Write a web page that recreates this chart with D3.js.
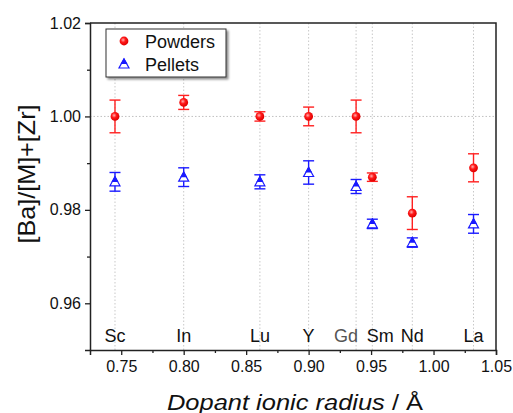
<!DOCTYPE html>
<html>
<head>
<meta charset="utf-8">
<script src="https://cdn.jsdelivr.net/npm/d3@7"></script>
<style>
  body { margin: 0; background: #fff; }
  text { font-family: "Liberation Sans", Arial, sans-serif; }
</style>
</head>
<body>
<div id="chart"></div>
<script>
const width = 513
const height = 413
const margin = { top: 23, right: 17, bottom: 63, left: 90 }

// dopant elements and their ionic radii (Å)
const elements = ["Sc", "In", "Lu", "Y", "Gd", "Sm", "Nd", "La"]
const radii = [0.745, 0.800, 0.861, 0.900, 0.938, 0.951, 0.983, 1.032]

// [Ba]/([M]+[Zr]) ratios
const powders = [1.000, 1.003, 1.000, 1.000, 1.000, 0.987, 0.9793, 0.989]
const powdersErr = [0.0035, 0.0015, 0.001, 0.002, 0.0035, 0.0009, 0.0035, 0.003]
const pellets = [0.986, 0.987, 0.986, 0.988, 0.985, 0.977, 0.973, 0.977]
const pelletsErr = [0.002, 0.002, 0.0015, 0.0025, 0.0015, 0.001, 0.001, 0.002]

const xTicks = [0.75, 0.80, 0.85, 0.90, 0.95, 1.00, 1.05]
const yTicks = [0.96, 0.98, 1.00, 1.02]

const svg = d3.select("#chart")
  .append("svg")
    .attr("width", width)
    .attr("height", height)

const x = d3.scaleLinear().domain([0.725, 1.05]).range([margin.left, width - margin.right])
const y = d3.scaleLinear().domain([0.95, 1.02]).range([height - margin.bottom, margin.top])

const defs = svg.append("defs")
const grad = defs.append("radialGradient").attr("id", "ball")
  .attr("cx", "40%").attr("cy", "38%").attr("r", "60%")
grad.append("stop").attr("offset", "0%").attr("stop-color", "#ffb0b0")
grad.append("stop").attr("offset", "45%").attr("stop-color", "#ff1a1a")
grad.append("stop").attr("offset", "100%").attr("stop-color", "#e00000")

const shadow = defs.append("filter").attr("id", "shadow")
shadow.append("feDropShadow").attr("dx", 2).attr("dy", 2).attr("stdDeviation", 1)
  .attr("flood-color", "#000").attr("flood-opacity", 0.45)

// grid: vertical dotted lines at each dopant, horizontal at 1.00
svg.append("g")
  .selectAll("line")
  .data(radii)
  .enter()
  .append("line")
    .attr("x1", d => x(d)).attr("x2", d => x(d))
    .attr("y1", y(0.95)).attr("y2", y(1.02))
    .attr("stroke", "#c8c8c8")
    .attr("stroke-dasharray", "1.5,2")

svg.append("line")
  .attr("x1", x(0.725)).attr("x2", x(1.05))
  .attr("y1", y(1.00)).attr("y2", y(1.00))
  .attr("stroke", "#c0c0c0")
  .attr("stroke-dasharray", "1.5,2")

// axes
svg.append("g")
  .attr("transform", "translate(0," + y(0.95) + ")")
  .call(d3.axisBottom(x).tickValues(xTicks).tickFormat(d3.format(".2f")).tickSize(5).tickPadding(6))
svg.append("g")
  .attr("transform", "translate(0," + y(0.95) + ")")
  .call(d3.axisBottom(x).tickValues(d3.range(0.775, 1.05, 0.05)).tickFormat("").tickSize(3))
  .select(".domain").remove()

svg.append("g")
  .attr("transform", "translate(" + x(0.725) + ",0)")
  .call(d3.axisLeft(y).tickValues(yTicks).tickFormat(d3.format(".2f")).tickSize(5).tickPadding(4))
svg.append("g")
  .attr("transform", "translate(" + x(0.725) + ",0)")
  .call(d3.axisLeft(y).tickValues([0.97, 0.99, 1.01]).tickFormat("").tickSize(3))
  .select(".domain").remove()

svg.selectAll(".tick text").attr("font-size", 16).attr("fill", "#111")
svg.selectAll(".tick line").attr("stroke", "#222").attr("stroke-width", 1.3)
svg.selectAll(".domain").attr("stroke", "#222").attr("stroke-width", 1.5)

// frame on top and right
svg.append("path")
  .attr("d", "M" + x(0.725) + "," + y(1.02) + "H" + x(1.05) + "V" + y(0.95))
  .attr("fill", "none").attr("stroke", "#222").attr("stroke-width", 1.5)

// element labels
const shift = { Gd: -10, Sm: 8 }
svg.append("g")
  .selectAll("text")
  .data(elements)
  .enter()
  .append("text")
    .attr("x", (d, i) => x(radii[i]) + (shift[d] || 0))
    .attr("y", y(0.95) - 8.5)
    .attr("text-anchor", "middle")
    .attr("font-size", 18)
    .attr("fill", d => d === "Gd" ? "#555" : "#111")
    .text(d => d)

// error bars
function errorBars(vals, errs, color) {
  const g = svg.append("g").attr("stroke", color).attr("stroke-width", 1.4)
  vals.forEach((v, i) => {
    const cx = x(radii[i])
    g.append("line").attr("x1", cx).attr("x2", cx).attr("y1", y(v - errs[i])).attr("y2", y(v + errs[i]))
    g.append("line").attr("x1", cx - 5.5).attr("x2", cx + 5.5).attr("y1", y(v - errs[i])).attr("y2", y(v - errs[i]))
    g.append("line").attr("x1", cx - 5.5).attr("x2", cx + 5.5).attr("y1", y(v + errs[i])).attr("y2", y(v + errs[i]))
  })
}
errorBars(powders, powdersErr, "#ff2020")
errorBars(pellets, pelletsErr, "#1a1aff")

// markers
function ball(g, cx, cy) {
  g.append("circle").attr("cx", cx).attr("cy", cy).attr("r", 4.4).attr("fill", "url(#ball)")
}
function halfTri(g, cx, cy) {
  const s = 5
  g.append("path")
    .attr("d", "M" + cx + "," + (cy - s) + "L" + (cx + s) + "," + (cy + s * 0.8) + "L" + (cx - s) + "," + (cy + s * 0.8) + "Z")
    .attr("fill", "#fff").attr("stroke", "#1a1aff").attr("stroke-width", 1.2)
  g.append("path")
    .attr("d", "M" + cx + "," + (cy - s) + "L" + (cx + s * 0.5) + "," + (cy - s * 0.1) + "L" + (cx - s * 0.5) + "," + (cy - s * 0.1) + "Z")
    .attr("fill", "#1a1aff").attr("stroke", "#1a1aff").attr("stroke-width", 1.2)
}

const pts = svg.append("g")
powders.forEach((v, i) => ball(pts, x(radii[i]), y(v)))
pellets.forEach((v, i) => halfTri(pts, x(radii[i]), y(v)))

// legend
const lg = svg.append("g")
lg.append("rect")
  .attr("x", 106).attr("y", 29).attr("width", 120).attr("height", 48)
  .attr("fill", "#fff").attr("stroke", "#333").attr("stroke-width", 1)
  .attr("filter", "url(#shadow)")
ball(lg, 124, 41)
halfTri(lg, 124, 64)
lg.append("text").attr("x", 145).attr("y", 47.5).attr("font-size", 18).attr("fill", "#111").text("Powders")
lg.append("text").attr("x", 145).attr("y", 70.5).attr("font-size", 18).attr("fill", "#111").text("Pellets")

// axis titles
svg.append("text")
  .attr("x", 295)
  .attr("y", 409.5)
  .attr("text-anchor", "middle")
  .attr("font-size", 22.5)
  .attr("textLength", 256)
  .attr("lengthAdjust", "spacingAndGlyphs")
  .attr("fill", "#111")
  .html("<tspan font-style='italic'>Dopant ionic radius</tspan> / Å")

svg.append("text")
  .attr("transform", "translate(34.5,174) rotate(-90)")
  .attr("text-anchor", "middle")
  .attr("font-size", 24)
  .attr("textLength", 139)
  .attr("lengthAdjust", "spacingAndGlyphs")
  .attr("fill", "#111")
  .text("[Ba]/[M]+[Zr]")
</script>
</body>
</html>
